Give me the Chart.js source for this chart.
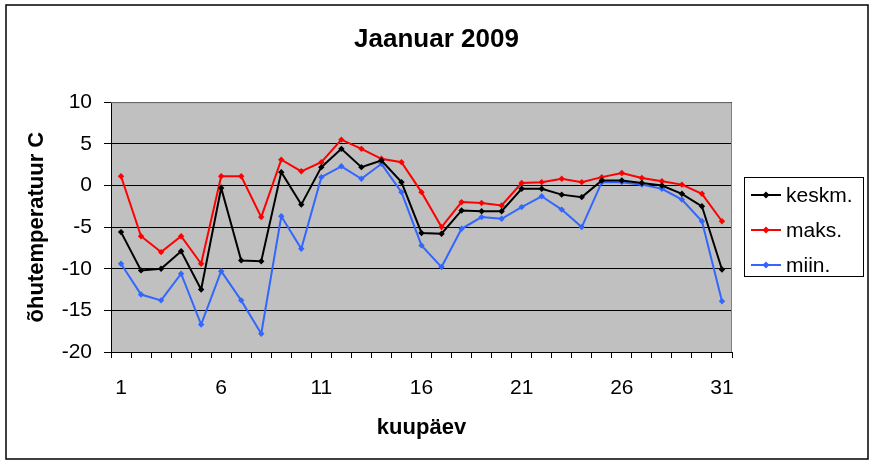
<!DOCTYPE html>
<html>
<head>
<meta charset="utf-8">
<script src="https://cdn.jsdelivr.net/npm/chart.js@4"></script>
<style>
  html, body { margin: 0; padding: 0; background: #ffffff; }
  canvas { display: block; }
</style>
</head>
<body>
<canvas id="temp-chart" width="873" height="464"></canvas>
<script>
const days = Array.from({ length: 31 }, (_, i) => String(i + 1));
const keskm = [-5.6, -10.2, -10.0, -7.9, -12.5, -0.3, -9.0, -9.1, 1.6, -2.3, 2.2, 4.4, 2.2, 3.0, 0.4, -5.7,
    -5.8, -3.0, -3.1, -3.1, -0.4, -0.4, -1.1, -1.4, 0.6, 0.6, 0.3, 0.0, -1.0, -2.5, -10.1];
const maks = [1.1, -6.1, -8.0, -6.1, -9.4, 1.1, 1.1, -3.8, 3.1, 1.7, 2.8, 5.5, 4.4, 3.2, 2.8, -0.8,
    -5.0, -2.0, -2.1, -2.4, 0.3, 0.4, 0.8, 0.4, 1.0, 1.5, 0.9, 0.5, 0.1, -1.0, -4.3];
const miin = [-9.4, -13.1, -13.8, -10.6, -16.7, -10.3, -13.8, -17.8, -3.7, -7.6, 1.0, 2.3, 0.8, 2.6, -0.8, -7.2,
    -9.8, -5.2, -3.8, -4.0, -2.6, -1.3, -2.9, -5.0, 0.4, 0.4, 0.1, -0.4, -1.7, -4.3, -13.9];
const seriesNames = ['keskm.', 'maks.', 'miin.'];
const seriesColors = ['#000000', '#FF0000', '#3366FF'];

const fontFamily = '"Liberation Sans", Arial, sans-serif';

// white page, outer frame and grey plot area
const frame = {
    id: 'frame',
    beforeDraw(chart) {
        const { ctx, chartArea: a } = chart;
        ctx.save();
        ctx.fillStyle = '#ffffff';
        ctx.fillRect(0, 0, chart.width, chart.height);
        ctx.fillStyle = '#C0C0C0';
        ctx.fillRect(a.left, a.top, a.right - a.left, a.bottom - a.top);
        ctx.strokeStyle = '#000000';
        ctx.lineWidth = 1.5;
        ctx.strokeRect(6, 5, 862, 454);
        ctx.restore();
    },
    beforeDatasetsDraw(chart) {
        const { ctx, chartArea: a } = chart;
        ctx.save();
        ctx.strokeStyle = '#808080';
        ctx.lineWidth = 1;
        ctx.beginPath();
        ctx.moveTo(a.left, a.top + 0.5);
        ctx.lineTo(a.right - 0.5, a.top + 0.5);
        ctx.lineTo(a.right - 0.5, a.bottom);
        ctx.stroke();
        ctx.restore();
    }
};

// Excel-like boxed legend on the right
const boxLegend = {
    id: 'boxLegend',
    afterDraw(chart) {
        const ctx = chart.ctx;
        ctx.save();
        ctx.fillStyle = '#ffffff';
        ctx.fillRect(744, 177, 119, 99);
        ctx.strokeStyle = '#000000';
        ctx.lineWidth = 1;
        ctx.strokeRect(744.5, 177.5, 119, 99);
        ctx.font = '21px ' + fontFamily;
        ctx.textBaseline = 'middle';
        chart.data.datasets.forEach((ds, i) => {
            const y = 195 + i * 35;
            ctx.strokeStyle = ds.borderColor;
            ctx.lineWidth = 2;
            ctx.beginPath();
            ctx.moveTo(751, y);
            ctx.lineTo(781, y);
            ctx.stroke();
            ctx.fillStyle = ds.borderColor;
            ctx.beginPath();
            ctx.moveTo(766, y - 3.5);
            ctx.lineTo(769.5, y);
            ctx.lineTo(766, y + 3.5);
            ctx.lineTo(762.5, y);
            ctx.closePath();
            ctx.fill();
            ctx.fillStyle = '#000000';
            ctx.fillText(ds.label, 786, y + 1);
        });
        ctx.restore();
    }
};

const series = [keskm, maks, miin];
const datasets = series.map((data, i) => ({
    label: seriesNames[i],
    data,
    borderColor: seriesColors[i],
    backgroundColor: seriesColors[i],
    borderWidth: 2,
    pointStyle: 'rectRot',
    pointRadius: 3.2,
    pointBorderWidth: 0,
    tension: 0
}));

new Chart(document.getElementById('temp-chart').getContext('2d'), {
    type: 'line',
    data: { labels: days, datasets },
    options: {
        responsive: false,
        animation: false,
        devicePixelRatio: 1,
        layout: { padding: 0 },
        scales: {
            x: {
                type: 'category',
                offset: true,
                afterFit: scale => { scale.height = 112; },
                grid: { offset: true, drawOnChartArea: false, color: '#000000', tickLength: 6 },
                border: { color: '#000000', width: 1 },
                ticks: {
                    autoSkip: false,
                    maxRotation: 0,
                    padding: 18,
                    color: '#000000',
                    font: { family: fontFamily, size: 21 },
                    callback: (value, index) => (index % 5 === 0 ? days[index] : '')
                },
                title: {
                    display: true,
                    text: 'kuupäev',
                    color: '#000000',
                    font: { family: fontFamily, size: 22, weight: 'bold' },
                    padding: { top: 0, bottom: 23 }
                }
            },
            y: {
                min: -20,
                max: 10,
                afterFit: scale => { scale.width = 111; },
                grid: { color: '#000000', lineWidth: 1, tickLength: 7 },
                border: { color: '#000000', width: 1 },
                ticks: {
                    stepSize: 5,
                    padding: 12,
                    color: '#000000',
                    font: { family: fontFamily, size: 21 }
                },
                title: {
                    display: true,
                    text: 'õhutemperatuur C',
                    color: '#000000',
                    font: { family: fontFamily, size: 22, weight: 'bold' },
                    padding: { top: 24, bottom: 0 }
                }
            },
            // empty right-hand strip that leaves room for the legend box
            legendSpace: {
                type: 'linear',
                position: 'right',
                afterFit: scale => { scale.width = 141; },
                grid: { display: false },
                border: { display: false },
                ticks: { display: false }
            }
        },
        plugins: {
            legend: { display: false },
            tooltip: { enabled: false },
            title: {
                display: true,
                text: 'Jaanuar 2009',
                color: '#000000',
                font: { family: fontFamily, size: 26, weight: 'bold' },
                padding: { top: 24, bottom: 47 }
            }
        }
    },
    plugins: [frame, boxLegend]
});
</script>
</body>
</html>
